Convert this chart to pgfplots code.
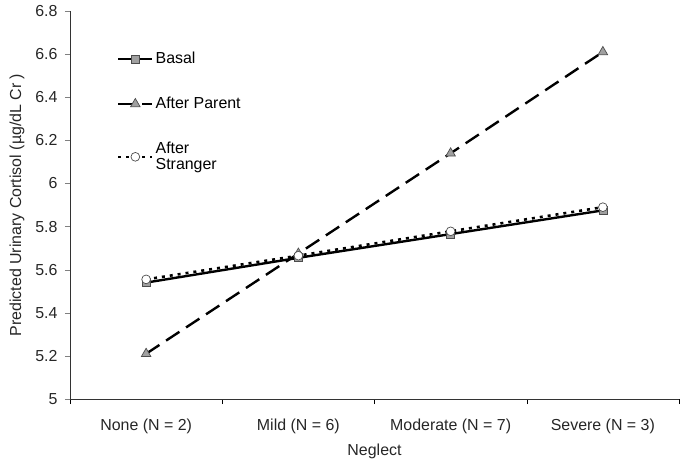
\documentclass[border=0pt]{standalone}
\usepackage{fontspec}
\setmainfont{Liberation Sans}
\usepackage{pgfplots}
\pgfplotsset{compat=1.18}
\definecolor{mgray}{HTML}{A0A0A0}
\begin{document}
\fontsize{16}{19}\selectfont
\begin{tikzpicture}
\begin{axis}[
  name=main,
  scale only axis, width=609bp, height=388bp,
  xmin=-0.5, xmax=3.5, ymin=5, ymax=6.8,
  axis x line*=bottom, axis y line*=left,
  xtick={0,1,2,3},
  xticklabels={None (N = 2),Mild (N = 6),Moderate (N = 7),Severe (N = 3)},
  minor xtick={-0.5,0.5,1.5,2.5,3.5},
  major x tick style={draw=none},
  minor x tick style={black, thin},
  ytick={5,5.2,...,6.8},
  yticklabels={5,5.2,5.4,5.6,5.8,6,6.2,6.4,6.6,6.8},
  tick align=outside, major tick length=5bp, minor tick length=5bp,
  /pgf/number format/assume math mode=true,
  ticklabel style={font=\fontsize{16}{19}\selectfont, color=black!85},
  xticklabel style={yshift=-9bp},
  yticklabel style={xshift=-2bp},
  label style={font=\fontsize{16}{19}\selectfont, color=black!85},
  xlabel={Neglect},
  ylabel={Predicted Urinary Cortisol (µg/dL Cr )},
  xlabel style={yshift=0bp},
  ylabel style={yshift=0bp},
  axis line style={black!80, thin},
  legend style={draw=none, fill=none, at={(0.072,0.905)}, anchor=north west,
    font=\fontsize{16}{16}\selectfont, row sep=27bp, nodes={align=left}},
  legend cell align=left,
  legend image code/.code={\draw[mark repeat=2,mark phase=2,#1] plot coordinates {(0cm,0cm)(0.6cm,0cm)(1.2cm,0cm)};},
]
\addplot[black, line width=2.4pt, mark=square*, mark size=4pt,
  mark options={solid, fill=mgray, draw=black!70, line width=0.7pt}]
  coordinates {(0,5.54) (1,5.655) (2,5.765) (3,5.875)};
\addlegendentry{Basal}
\addplot[black, line width=2.4pt, dash pattern=on 16pt off 8pt, mark=triangle*, mark size=5.5pt,
  mark options={solid, fill=mgray, draw=black!70, line width=0.7pt}]
  coordinates {(0,5.21) (1,5.675) (2,6.14) (3,6.61)};
\addlegendentry{After Parent}
\addplot[black, line width=2.6pt, dash pattern=on 3pt off 5pt, mark=*, mark size=4.4pt,
  mark options={solid, fill=white, draw=black!70, line width=0.7pt}]
  coordinates {(0,5.555) (1,5.665) (2,5.778) (3,5.89)};
\addlegendentry{After\\Stranger}
\end{axis}
\pgfresetboundingbox
\path (main.south west) ++(-70bp,-62bp) coordinate (bl);
\path (main.north east) ++(8bp,11bp) coordinate (tr);
\useasboundingbox (bl) rectangle (tr);
\end{tikzpicture}
\end{document}
